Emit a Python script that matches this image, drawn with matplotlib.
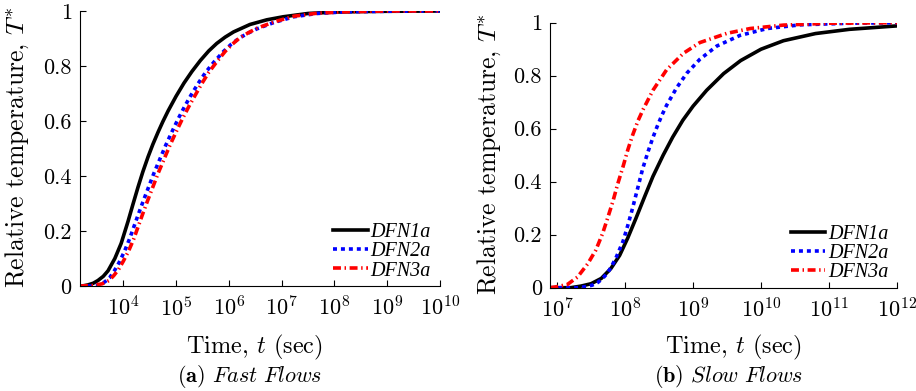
import numpy as np
import matplotlib
matplotlib.use("Agg")
import matplotlib.pyplot as plt

# === style: computer-modern text, matlab-like axes ===
plt.rcParams['font.family'] = ['cmr10', 'DejaVu Serif']
plt.rcParams['mathtext.fontset'] = 'cm'
plt.rcParams['axes.formatter.use_mathtext'] = True
plt.rcParams['axes.unicode_minus'] = False

# === data (log10 of time in sec, relative temperature) ===
# (a) fast flows
fast_logt_dfn1a = [3.18, 3.25, 3.33, 3.43, 3.52, 3.62, 3.71, 3.84, 3.96, 4.09, 4.18, 4.28, 4.37,
                   4.47, 4.56, 4.66, 4.75, 4.85, 5.0, 5.15, 5.3, 5.46, 5.62, 5.77, 5.93, 6.09,
                   6.4, 6.72, 7.03, 7.5, 8.0, 8.5, 9.0, 10.0]
fast_T_dfn1a = [0.0, 0.001, 0.004, 0.01, 0.02, 0.035, 0.055, 0.10, 0.155, 0.235, 0.295, 0.36, 0.415,
                0.47, 0.515, 0.56, 0.598, 0.637, 0.69, 0.738, 0.78, 0.82, 0.855, 0.882, 0.905, 0.924,
                0.951, 0.968, 0.979, 0.991, 0.996, 0.998, 0.999, 1.0]

fast_logt_dfn2a = [3.18, 3.40, 3.55, 3.65, 3.74, 3.83, 3.92, 4.02, 4.12, 4.2, 4.28, 4.38, 4.47,
                   4.58, 4.69, 4.8, 4.92, 5.04, 5.16, 5.28, 5.42, 5.56, 5.72, 5.9, 6.05, 6.21,
                   6.37, 6.53, 6.85, 7.23, 7.67, 8.2, 9.0, 10.0]
fast_T_dfn2a = [0.0, 0.0, 0.004, 0.015, 0.03, 0.055, 0.085, 0.125, 0.172, 0.215, 0.258, 0.31, 0.355,
                0.41, 0.46, 0.51, 0.56, 0.608, 0.652, 0.693, 0.737, 0.777, 0.815, 0.853, 0.88, 0.903,
                0.92, 0.935, 0.958, 0.979, 0.991, 0.997, 0.999, 1.0]

fast_logt_dfn3a = [3.18, 3.43, 3.6, 3.73, 3.82, 3.91, 4.0, 4.1, 4.2, 4.28, 4.36, 4.46, 4.55,
                   4.66, 4.77, 4.88, 5.0, 5.12, 5.24, 5.36, 5.49, 5.62, 5.77, 5.93, 6.07, 6.21,
                   6.37, 6.53, 6.85, 7.23, 7.67, 8.2, 9.0, 10.0]
fast_T_dfn3a = [0.0, 0.002, 0.008, 0.02, 0.038, 0.06, 0.09, 0.127, 0.172, 0.215, 0.258, 0.31, 0.355,
                0.41, 0.46, 0.51, 0.56, 0.608, 0.652, 0.693, 0.737, 0.777, 0.815, 0.853, 0.88, 0.903,
                0.921, 0.937, 0.96, 0.981, 0.992, 0.997, 1.0, 1.0]

# (b) slow flows
slow_logt_dfn1a = [6.9, 7.2, 7.35, 7.5, 7.65, 7.79, 7.92, 8.04, 8.16, 8.29, 8.41, 8.56, 8.7,
                   8.85, 9.0, 9.2, 9.45, 9.7, 10.0, 10.33, 10.8, 11.3, 12.0]
slow_T_dfn1a = [0.0, 0.0, 0.006, 0.015, 0.035, 0.072, 0.122, 0.188, 0.262, 0.345, 0.42, 0.5, 0.568,
                0.632, 0.685, 0.745, 0.808, 0.857, 0.9, 0.932, 0.959, 0.975, 0.988]

slow_logt_dfn2a = [6.9, 7.3, 7.45, 7.52, 7.6, 7.67, 7.74, 7.8, 7.87, 7.92, 7.97, 8.04, 8.11,
                   8.19, 8.26, 8.34, 8.41, 8.47, 8.54, 8.61, 8.76, 8.91, 9.1, 9.35, 9.69, 10.09,
                   10.58, 11.3, 12.0]
slow_T_dfn2a = [0.0, 0.0, 0.005, 0.01, 0.02, 0.035, 0.055, 0.08, 0.115, 0.145, 0.175, 0.235, 0.3,
                0.38, 0.45, 0.515, 0.567, 0.607, 0.65, 0.688, 0.755, 0.81, 0.862, 0.912, 0.952, 0.978,
                0.992, 0.998, 1.0]

slow_logt_dfn3a = [6.9, 7.0, 7.15, 7.3, 7.45, 7.57, 7.67, 7.74, 7.82, 7.89, 7.97, 8.04, 8.11,
                   8.19, 8.27, 8.41, 8.61, 8.86, 9.1, 9.5, 9.84, 10.33, 11.0, 12.0]
slow_T_dfn3a = [0.0, 0.004, 0.012, 0.04, 0.09, 0.142, 0.205, 0.26, 0.325, 0.39, 0.457, 0.52, 0.575,
                0.63, 0.675, 0.745, 0.822, 0.885, 0.925, 0.96, 0.978, 0.991, 0.998, 1.0]

series_labels = ["DFN1a", "DFN2a", "DFN3a"]
y_ticks = [0, 0.2, 0.4, 0.6, 0.8, 1.0]
y_ticklabels = ["0", "0.2", "0.4", "0.6", "0.8", "1"]
fast_xticks = [1e4, 1e5, 1e6, 1e7, 1e8, 1e9, 1e10]
slow_xticks = [1e7, 1e8, 1e9, 1e10, 1e11, 1e12]

styles = [dict(color='black', lw=2.6, ls='-'),
          dict(color='#0000ff', lw=2.6, dashes=(1.1, 1.1)),
          dict(color='#ff0000', lw=2.6, dashes=(2.2, 1.0, 0.4, 1.0))]

# === figure ===
fig = plt.figure(figsize=(9.16, 3.91), dpi=100)
ax_a = fig.add_axes([80 / 916, 1 - 286 / 391, 360 / 916, 275 / 391])
ax_b = fig.add_axes([550.3 / 916, 1 - 287.7 / 391, 346.7 / 916, 265 / 391])

panels = [
    (ax_a, [(fast_logt_dfn1a, fast_T_dfn1a), (fast_logt_dfn2a, fast_T_dfn2a), (fast_logt_dfn3a, fast_T_dfn3a)],
     (10 ** 3.18, 1e10), fast_xticks, (-0.137, 0.505), (0.483, -0.171), (0.975, 0.02)),
    (ax_b, [(slow_logt_dfn1a, slow_T_dfn1a), (slow_logt_dfn2a, slow_T_dfn2a), (slow_logt_dfn3a, slow_T_dfn3a)],
     (10 ** 6.9, 1e12), slow_xticks, (-0.137, 0.503), (0.527, -0.171), (0.975, 0.02)),
]

for ax, curves, xlim, xticks, ylab_pos, xlab_pos, leg_pos in panels:
    for (logt, T), lab, st in zip(curves, series_labels, styles):
        ax.plot(10 ** np.array(logt), T, label=lab, solid_joinstyle='round', **st)
    ax.set_xscale('log')
    ax.set_xlim(*xlim)
    ax.set_ylim(0, 1)
    ax.set_xticks(xticks)
    ax.minorticks_off()
    ax.set_yticks(y_ticks)
    ax.set_yticklabels(y_ticklabels)
    ax.tick_params(direction='in', length=4, width=0.8, labelsize=16)
    ax.tick_params(axis='y', pad=6)
    ax.tick_params(axis='x', pad=7)
    ax.spines['top'].set_visible(False)
    ax.spines['right'].set_visible(False)
    ax.set_ylabel(r"Relative temperature, $T^{*}$", fontsize=18.5)
    ax.set_xlabel(r"Time, $t$ (sec)", fontsize=17.5)
    ax.yaxis.set_label_coords(*ylab_pos)
    ax.xaxis.set_label_coords(*xlab_pos)
    ax.legend(loc='lower right', bbox_to_anchor=leg_pos, frameon=False, handlelength=1.7,
              handletextpad=0.15, labelspacing=0.0, borderaxespad=0, borderpad=0,
              prop=dict(family='Liberation Serif', style='italic', size=14.5))

fig.text(250 / 916, 1 - 377 / 391, r"$\mathbf{(a)}$ $\mathit{Fast\ Flows}$", ha='center', va='center', fontsize=16)
fig.text(729 / 916, 1 - 377 / 391, r"$\mathbf{(b)}$ $\mathit{Slow\ Flows}$", ha='center', va='center', fontsize=16)

plt.savefig("out.png", dpi=100)
plt.close()
